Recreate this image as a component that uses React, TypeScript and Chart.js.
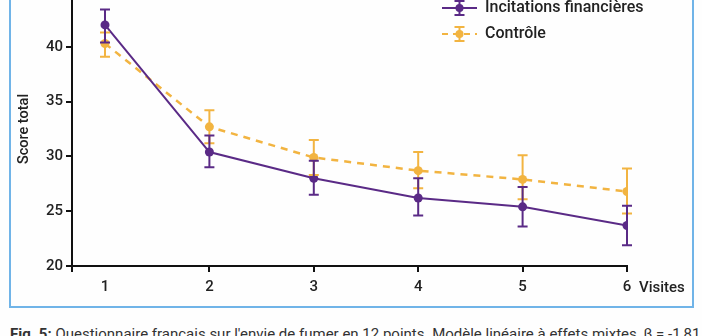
import React, { useEffect, useRef } from 'react';
import { Chart, registerables } from 'chart.js';

Chart.register(...registerables);

const visits = [1, 2, 3, 4, 5, 6];
const incitations = [42.0, 30.4, 28.0, 26.2, 25.4, 23.7];
const incitationsLow = [40.4, 29.0, 26.5, 24.6, 23.6, 21.9];
const incitationsHigh = [43.4, 31.9, 29.6, 28.0, 27.2, 25.5];
const controle = [40.3, 32.7, 29.9, 28.7, 27.9, 26.8];
const controleLow = [39.1, 31.2, 28.3, 27.1, 26.1, 24.8];
const controleHigh = [41.3, 34.2, 31.5, 30.4, 30.1, 28.9];
const seriesLabels = ['Incitations financières', 'Contrôle'];
const yAxisTitle = 'Score total';
const xAxisUnit = 'Visites';
const caption = "Questionnaire français sur l'envie de fumer en 12 points. Modèle linéaire à effets mixtes, β = -1,81";

const PURPLE = '#5a2a86';
const ORANGE = '#f2b441';
const X_MIN = 0.684;
const TICK_FONT = { family: 'Roboto', size: 15, weight: 500 as any };

const errorBarsPlugin = {
  id: 'errorBars',
  afterDatasetsDraw(chart: any) {
    const ctx = chart.ctx;
    const yScale = chart.scales.y;
    const bounds = [
      [incitationsLow, incitationsHigh],
      [controleLow, controleHigh],
    ];
    for (let di = chart.data.datasets.length - 1; di >= 0; di--) {
      const meta = chart.getDatasetMeta(di);
      const color = chart.data.datasets[di].borderColor;
      const [lo, hi] = bounds[di];
      ctx.save();
      ctx.strokeStyle = color;
      ctx.lineWidth = 2;
      meta.data.forEach((pt: any, j: number) => {
        const x = pt.x;
        const y1 = yScale.getPixelForValue(lo[j]);
        const y2 = yScale.getPixelForValue(hi[j]);
        ctx.beginPath();
        ctx.moveTo(x, y1);
        ctx.lineTo(x, y2);
        ctx.moveTo(x - 5, y1);
        ctx.lineTo(x + 5, y1);
        ctx.moveTo(x - 5, y2);
        ctx.lineTo(x + 5, y2);
        ctx.stroke();
      });
      ctx.restore();
    }
  },
};

const extrasPlugin = {
  id: 'extras',
  afterDraw(chart: any) {
    const ctx = chart.ctx;
    const xScale = chart.scales.x;
    ctx.save();
    ctx.fillStyle = '#222';
    ctx.font = '500 15px Roboto';
    ctx.textAlign = 'left';
    ctx.textBaseline = 'middle';
    const labelY = chart.chartArea.bottom + 22;
    ctx.fillText(xAxisUnit, xScale.getPixelForValue(6) + 12, labelY);

    // legend
    ctx.font = '500 16px Roboto';
    const rows = [
      { y: 28, color: PURPLE, dash: [] as number[] },
      { y: 54, color: ORANGE, dash: [6, 5] },
    ];
    rows.forEach((r, i) => {
      const x0 = 442;
      const x1 = 477;
      const xc = (x0 + x1) / 2;
      ctx.strokeStyle = r.color;
      ctx.lineWidth = 2;
      ctx.setLineDash(r.dash);
      ctx.beginPath();
      ctx.moveTo(x0, r.y);
      ctx.lineTo(x1, r.y);
      ctx.stroke();
      ctx.setLineDash([]);
      ctx.beginPath();
      ctx.moveTo(xc, r.y - 7);
      ctx.lineTo(xc, r.y + 7);
      ctx.moveTo(xc - 5, r.y - 7);
      ctx.lineTo(xc + 5, r.y - 7);
      ctx.moveTo(xc - 5, r.y + 7);
      ctx.lineTo(xc + 5, r.y + 7);
      ctx.stroke();
      ctx.fillStyle = r.color;
      ctx.beginPath();
      ctx.arc(xc, r.y, 4, 0, Math.PI * 2);
      ctx.fill();
      ctx.fillStyle = '#222';
      ctx.fillText(seriesLabels[i], 485, r.y);
    });
    ctx.restore();
  },
};

export default function App() {
  const canvasRef = useRef<HTMLCanvasElement | null>(null);

  useEffect(() => {
    if (!canvasRef.current) return;
    const chart = new Chart(canvasRef.current, {
      type: 'line',
      data: {
        datasets: [
          {
            label: seriesLabels[0],
            data: visits.map((v, i) => ({ x: v, y: incitations[i] })),
            borderColor: PURPLE,
            backgroundColor: PURPLE,
            borderWidth: 2,
            pointRadius: 4.5,
            pointBorderWidth: 0,
            tension: 0,
          },
          {
            label: seriesLabels[1],
            data: visits.map((v, i) => ({ x: v, y: controle[i] })),
            borderColor: ORANGE,
            backgroundColor: ORANGE,
            borderWidth: 2.5,
            borderDash: [7, 6],
            pointRadius: 4.5,
            pointBorderWidth: 0,
            tension: 0,
          },
        ],
      },
      options: {
        animation: false,
        responsive: false,
        maintainAspectRatio: false,
        layout: { padding: { top: 10, right: 75, left: 0, bottom: 0 } },
        plugins: { legend: { display: false }, tooltip: { enabled: false } },
        scales: {
          x: {
            type: 'linear',
            min: X_MIN,
            max: 6,
            afterBuildTicks: (scale: any) => {
              scale.ticks = [{ value: X_MIN }, ...visits.map((v) => ({ value: v }))];
            },
            afterFit: (scale: any) => {
              scale.height = 44;
            },
            border: { display: true, color: '#111', width: 2 },
            grid: {
              drawOnChartArea: false,
              drawTicks: true,
              tickLength: 6,
              lineWidth: 2,
              color: (c: any) => (c.tick && c.tick.value === 1 ? 'rgba(0,0,0,0)' : '#111'),
            },
            ticks: {
              color: '#222',
              font: TICK_FONT,
              padding: 6,
              maxRotation: 0,
              autoSkip: false,
              callback: (v: any) => (visits.includes(v) ? String(v) : ''),
            },
          },
          y: {
            min: 20,
            max: 45,
            afterFit: (scale: any) => {
              scale.width = 72;
            },
            border: { display: true, color: '#111', width: 2 },
            grid: { drawOnChartArea: false, drawTicks: true, tickLength: 6, lineWidth: 2, color: '#111' },
            ticks: { stepSize: 5, color: '#222', font: TICK_FONT, padding: 3 },
            title: {
              display: true,
              text: yAxisTitle,
              color: '#222',
              font: { family: 'Roboto', size: 14.5, weight: 500 as any },
              padding: { top: 16, bottom: 0 },
            },
          },
        },
      },
      plugins: [errorBarsPlugin, extrasPlugin],
    });
    return () => chart.destroy();
  }, []);

  return (
    <div
      style={{
        position: 'fixed',
        left: 0,
        top: 0,
        width: 702,
        height: 336,
        overflow: 'hidden',
        background: '#fefefe',
      }}
    >
      <div
        style={{
          position: 'absolute',
          left: 9,
          top: -10,
          width: 685,
          height: 318,
          boxSizing: 'border-box',
          border: '2px solid #70b4e8',
        }}
      />
      <canvas
        ref={canvasRef}
        width={702}
        height={330}
        style={{ position: 'absolute', left: 0, top: -20, width: 702, height: 330 }}
      />
      <div
        style={{
          position: 'absolute',
          left: 10,
          top: 325,
          whiteSpace: 'nowrap',
          fontFamily: 'Roboto',
          fontSize: 15,
          color: '#333',
        }}
      >
        <b>Fig. 5:</b> {caption}
      </div>
    </div>
  );
}
